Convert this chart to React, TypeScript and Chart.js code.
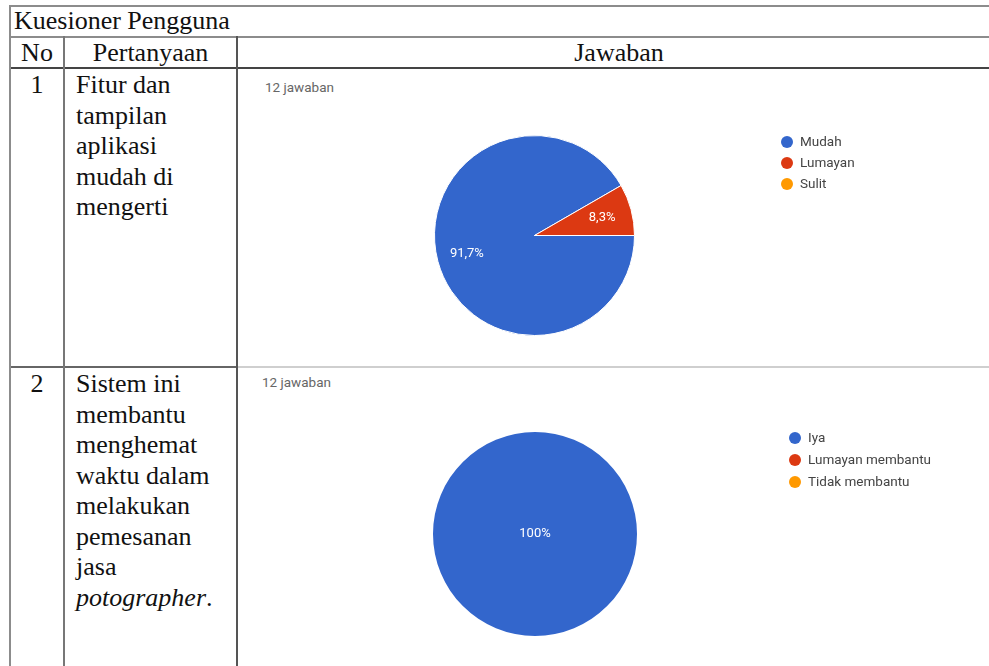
import React, { useEffect, useRef } from "react";
import { Chart, registerables } from "chart.js";

Chart.register(...registerables);

// ---- data ----
const tableTitle = "Kuesioner Pengguna";
const headerNo = "No";
const headerQuestion = "Pertanyaan";
const headerAnswer = "Jawaban";
const responsesText = "12 jawaban";

const q1Number = "1";
const q1Lines = ["Fitur dan", "tampilan", "aplikasi", "mudah di", "mengerti"];
const q1Labels = ["Mudah", "Lumayan", "Sulit"];
const q1Values = [11, 1, 0];

const q2Number = "2";
const q2Lines = ["Sistem ini", "membantu", "menghemat", "waktu dalam", "melakukan", "pemesanan", "jasa"];
const q2LastItalic = "potographer";
const q2Labels = ["Iya", "Lumayan membantu", "Tidak membantu"];
const q2Values = [12, 0, 0];

const sliceColors = ["#3366CC", "#DC3912", "#FF9900"];

function formatPct(p: number): string {
  if (Math.abs(p - Math.round(p)) < 1e-9) return `${Math.round(p)}%`;
  return p.toFixed(1).replace(".", ",") + "%";
}

const pieExtras = {
  id: "pieExtras",
  afterDatasetsDraw(chart: any, _args: any, opts: any) {
    const ctx = chart.ctx as CanvasRenderingContext2D;
    const meta = chart.getDatasetMeta(0);
    const data = chart.data.datasets[0].data as number[];
    const colors = chart.data.datasets[0].backgroundColor as string[];
    const total = data.reduce((a, b) => a + b, 0);
    ctx.save();
    ctx.textBaseline = "middle";
    ctx.font = "13px Roboto, Arial, sans-serif";
    meta.data.forEach((arc: any, i: number) => {
      const v = data[i];
      if (!v) return;
      const pct = (v / total) * 100;
      let x = arc.x;
      let y = arc.y;
      if (pct < 100) {
        const mid = (arc.startAngle + arc.endAngle) / 2;
        const r = arc.outerRadius * opts.labelRadius;
        x = arc.x + Math.cos(mid) * r;
        y = arc.y + Math.sin(mid) * r;
      }
      ctx.fillStyle = "#ffffff";
      ctx.textAlign = "center";
      ctx.fillText(formatPct(pct), x, y);
    });
    ctx.font = "13.5px Roboto, Arial, sans-serif";
    (chart.data.labels as string[]).forEach((label: string, i: number) => {
      const y = opts.legendY + i * opts.legendGap;
      ctx.beginPath();
      ctx.fillStyle = colors[i];
      ctx.arc(opts.legendX, y, 6, 0, Math.PI * 2);
      ctx.fill();
      ctx.fillStyle = "#444444";
      ctx.textAlign = "left";
      ctx.fillText(label, opts.legendX + 13, y + 0.5);
    });
    ctx.restore();
  },
};

type PieProps = {
  labels: string[];
  values: number[];
  left: number;
  top: number;
  width: number;
  height: number;
  padding: { left: number; right: number; top: number; bottom: number };
  legendX: number;
  legendY: number;
  legendGap: number;
  borderWidth: number;
};

function PieChart(p: PieProps) {
  const ref = useRef<HTMLCanvasElement | null>(null);
  useEffect(() => {
    if (!ref.current) return;
    const chart = new Chart(ref.current, {
      type: "pie",
      data: {
        labels: p.labels,
        datasets: [
          {
            data: p.values,
            backgroundColor: sliceColors,
            borderColor: "#ffffff",
            borderWidth: p.borderWidth,
          },
        ],
      },
      options: {
        responsive: false,
        animation: false,
        rotation: 90,
        layout: { padding: p.padding },
        plugins: {
          legend: { display: false },
          tooltip: { enabled: false },
          pieExtras: { labelRadius: 0.7, legendX: p.legendX, legendY: p.legendY, legendGap: p.legendGap },
        } as any,
      },
      plugins: [pieExtras],
    });
    return () => chart.destroy();
  }, []);
  return (
    <canvas
      ref={ref}
      width={p.width}
      height={p.height}
      style={{ position: "absolute", left: p.left, top: p.top, width: p.width, height: p.height }}
    />
  );
}

const serif = "'Liberation Serif', 'Times New Roman', serif";
const sans = "Roboto, Arial, sans-serif";

function HLine({ x1, x2, y, color, w = 2 }: { x1: number; x2: number; y: number; color: string; w?: number }) {
  return <div style={{ position: "absolute", left: x1, top: y, width: x2 - x1, height: w, background: color }} />;
}
function VLine({ x, y1, y2, color, w = 2 }: { x: number; y1: number; y2: number; color: string; w?: number }) {
  return <div style={{ position: "absolute", left: x, top: y1, width: w, height: y2 - y1, background: color }} />;
}

export default function App() {
  const textStyle: React.CSSProperties = {
    position: "absolute",
    fontFamily: serif,
    fontSize: 26,
    lineHeight: "30.5px",
    color: "#111",
    whiteSpace: "nowrap",
  };
  return (
    <div style={{ position: "absolute", left: 0, top: 0, width: 989, height: 666, background: "#fff", overflow: "hidden" }}>
      {/* table borders */}
      <HLine x1={9} x2={989} y={5} color="#8c8c8c" />
      <HLine x1={9} x2={989} y={36} color="#8c8c8c" />
      <HLine x1={9} x2={989} y={67} color="#444" />
      <HLine x1={9} x2={236} y={366} color="#666" />
      <HLine x1={236} x2={989} y={366} color="#cfcfcf" />
      <VLine x={9} y1={5} y2={666} color="#8c8c8c" />
      <VLine x={63} y1={36} y2={666} color="#777" />
      <VLine x={236} y1={36} y2={666} color="#555" />

      {/* header texts */}
      <div style={{ ...textStyle, left: 14, top: 6 }}>{tableTitle}</div>
      <div style={{ ...textStyle, left: 9, width: 56, top: 38, textAlign: "center" }}>{headerNo}</div>
      <div style={{ ...textStyle, left: 65, width: 171, top: 38, textAlign: "center" }}>{headerQuestion}</div>
      <div style={{ ...textStyle, left: 500, width: 238, top: 38, textAlign: "center" }}>{headerAnswer}</div>

      {/* row 1 */}
      <div style={{ ...textStyle, left: 9, width: 56, top: 70, textAlign: "center" }}>{q1Number}</div>
      <div style={{ ...textStyle, left: 76, top: 70 }}>
        {q1Lines.map((l, i) => (
          <div key={i}>{l}</div>
        ))}
      </div>
      <div style={{ position: "absolute", left: 265, top: 79, fontFamily: sans, fontSize: 13.5, color: "#666" }}>{responsesText}</div>
      <PieChart
        labels={q1Labels}
        values={q1Values}
        left={238}
        top={69}
        width={750}
        height={296}
        padding={{ left: 196, right: 353, top: 66, bottom: 29 }}
        legendX={549}
        legendY={73}
        legendGap={21}
        borderWidth={1}
      />

      {/* row 2 */}
      <div style={{ ...textStyle, left: 9, width: 56, top: 369, textAlign: "center" }}>{q2Number}</div>
      <div style={{ ...textStyle, left: 76, top: 369 }}>
        {q2Lines.map((l, i) => (
          <div key={i}>{l}</div>
        ))}
        <div>
          <i>{q2LastItalic}</i>.
        </div>
      </div>
      <div style={{ position: "absolute", left: 262, top: 374, fontFamily: sans, fontSize: 13.5, color: "#666" }}>{responsesText}</div>
      <PieChart
        labels={q2Labels}
        values={q2Values}
        left={238}
        top={368}
        width={750}
        height={298}
        padding={{ left: 195, right: 351, top: 64, bottom: 30 }}
        legendX={557}
        legendY={70}
        legendGap={22}
        borderWidth={0}
      />
    </div>
  );
}
